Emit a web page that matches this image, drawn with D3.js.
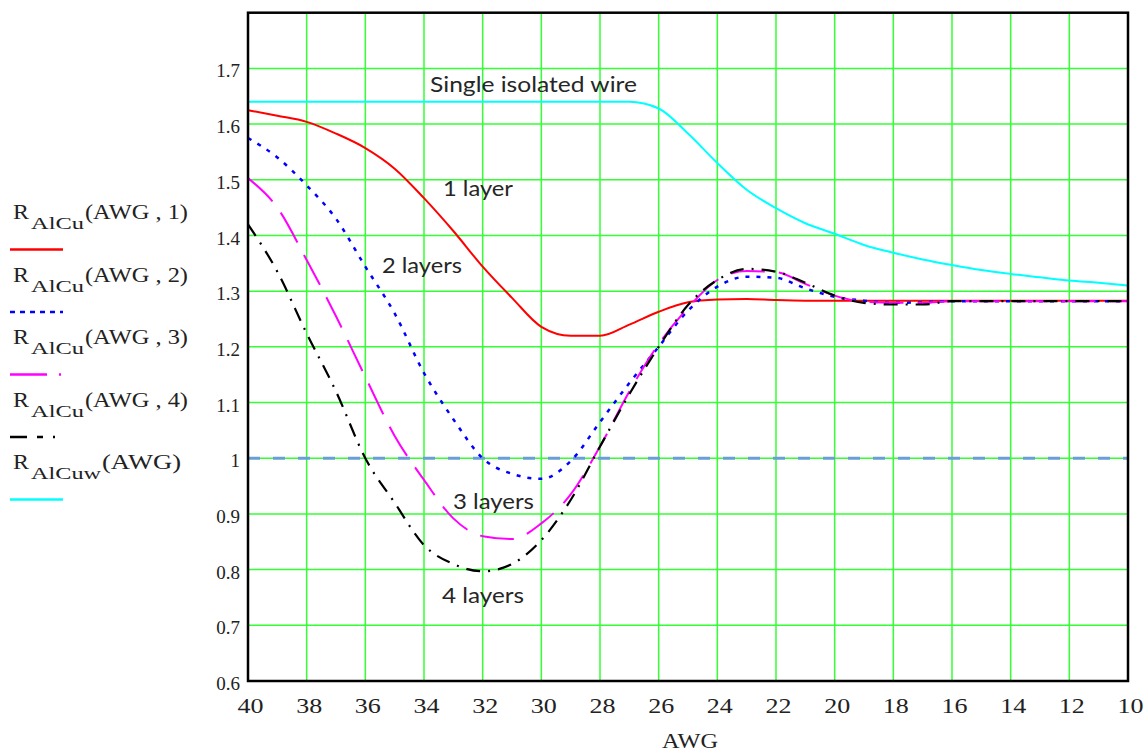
<!DOCTYPE html>
<html>
<head>
<meta charset="utf-8">
<script src="https://cdn.jsdelivr.net/npm/d3@7"></script>
<style>
body { margin: 0; background: #fff; }
</style>
</head>
<body>
<div id="chart"></div>
<script>
// AWG sample points shared by every curve
var awg = [40,39,38,37,36,35,34,33,32,31,30,29,28,27,26,25,24,23,22,21,20,19,18,17,16,15,14,13,12,11,10];

// R_AlCu(AWG, n) for 1..4 layers, and the single isolated wire
var layer1 = [1.625,1.615,1.604,1.583,1.557,1.52,1.467,1.408,1.344,1.288,1.236,1.22,1.22,1.24,1.263,1.28,1.285,1.286,1.284,1.283,1.283,1.283,1.283,1.283,1.283,1.283,1.283,1.283,1.283,1.283,1.283];
var layer2 = [1.575,1.54,1.49,1.43,1.344,1.26,1.153,1.07,1.0,0.972,0.963,0.995,1.065,1.135,1.2,1.265,1.308,1.326,1.324,1.305,1.29,1.283,1.279,1.28,1.282,1.282,1.282,1.282,1.282,1.282,1.282];
var layer3 = [1.503,1.45,1.356,1.255,1.146,1.04,0.961,0.892,0.86,0.855,0.883,0.935,1.021,1.12,1.205,1.27,1.32,1.336,1.334,1.313,1.292,1.281,1.279,1.279,1.282,1.282,1.282,1.282,1.282,1.282,1.282];
var layer4 = [1.42,1.335,1.224,1.12,1.0,0.92,0.844,0.81,0.797,0.81,0.853,0.925,1.021,1.115,1.2,1.275,1.32,1.34,1.335,1.315,1.292,1.279,1.276,1.276,1.282,1.282,1.282,1.282,1.282,1.282,1.282];
var wire = [1.64,1.64,1.64,1.64,1.64,1.64,1.64,1.64,1.64,1.64,1.64,1.64,1.64,1.64,1.628,1.583,1.53,1.482,1.449,1.422,1.403,1.383,1.369,1.357,1.347,1.338,1.331,1.325,1.319,1.315,1.31];

// reference level at 1
var refAwg = [40,10];
var refLevel = [1,1];

var xTicks = [40,38,36,34,32,30,28,26,24,22,20,18,16,14,12,10];
var yTicks = [0.6,0.7,0.8,0.9,1.0,1.1,1.2,1.3,1.4,1.5,1.6,1.7];
var yTickLabels = ["0.6","0.7","0.8","0.9","1","1.1","1.2","1.3","1.4","1.5","1.6","1.7"];

var legendArgs = ["(AWG , 1)","(AWG , 2)","(AWG , 3)","(AWG , 4)","(AWG)"];
var legendSubs = ["AlCu","AlCu","AlCu","AlCu","AlCuw"];

var notes = ["Single isolated wire","1 layer","2 layers","3 layers","4 layers"];

var width = 1148, height = 755;
var plotLeft = 248, plotRight = 1128, plotTop = 12.7, plotBottom = 681;

var svg = d3.select("#chart").append("svg")
    .attr("width", width)
    .attr("height", height);

var x = d3.scaleLinear().domain([40,10]).range([plotLeft,plotRight]);
var y = d3.scaleLinear().domain([0.6,1.8]).range([plotBottom,plotTop]);

//grid
var grid = svg.append("g").attr("stroke", "#33ff33").attr("stroke-width", 1.5);
grid.selectAll("line.v").data(xTicks).enter().append("line")
    .attr("x1", function(d){ return x(d); })
    .attr("x2", function(d){ return x(d); })
    .attr("y1", plotTop).attr("y2", plotBottom);
grid.selectAll("line.h").data(yTicks).enter().append("line")
    .attr("y1", function(d){ return y(d); })
    .attr("y2", function(d){ return y(d); })
    .attr("x1", plotLeft).attr("x2", plotRight);

var serif = "'Liberation Serif', 'Times New Roman', serif";

//axes - labels only
var xAxis = d3.axisBottom(x).tickValues(xTicks).tickSize(0).tickPadding(0);
var gx = svg.append("g")
    .attr("transform", "translate(0," + plotBottom + ")")
    .call(xAxis);
gx.select(".domain").remove();
gx.selectAll("text")
    .attr("y", 32)
    .attr("dy", null)
    .attr("x", 2)
    .attr("fill", "#222")
    .attr("textLength", 26)
    .attr("lengthAdjust", "spacingAndGlyphs")
    .style("font-family", serif)
    .style("font-size", "21px");

var yAxis = d3.axisLeft(y).tickValues(yTicks).tickSize(0).tickPadding(8)
    .tickFormat(function(d,i){ return yTickLabels[i]; });
var gy = svg.append("g")
    .attr("transform", "translate(" + plotLeft + ",0)")
    .call(yAxis);
gy.select(".domain").remove();
gy.selectAll("text")
    .attr("dy", "0.45em")
    .attr("fill", "#222")
    .style("font-family", serif)
    .style("font-size", "19px");

svg.append("text")
    .attr("x", 690).attr("y", 748)
    .attr("text-anchor", "middle")
    .attr("fill", "#222")
    .attr("textLength", 56)
    .attr("lengthAdjust", "spacingAndGlyphs")
    .style("font-family", serif)
    .style("font-size", "20px")
    .text("AWG");

//line generator
function makeLine(xs){
    return d3.line()
        .x(function(d,i){ return x(xs[i]); })
        .y(function(d){ return y(d); })
        .curve(d3.curveMonotoneX);
}

svg.append("path")
    .attr("d", makeLine(refAwg)(refLevel))
    .attr("fill", "none")
    .attr("stroke", "#6a9fd6")
    .attr("stroke-width", 3)
    .attr("stroke-dasharray", "12,13");

var series = [
    {vals: wire, color: "#00ffff", dash: null, w: 2},
    {vals: layer1, color: "#ff0000", dash: null, w: 2},
    {vals: layer2, color: "#0000ff", dash: "4,7", w: 2.5},
    {vals: layer3, color: "#ff00ff", dash: "34,14", w: 2},
    {vals: layer4, color: "#000000", dash: "14,8,2,8", w: 2.2}
];

series.forEach(function(s){
    svg.append("path")
        .attr("d", makeLine(awg)(s.vals))
        .attr("fill", "none")
        .attr("stroke", s.color)
        .attr("stroke-width", s.w)
        .attr("stroke-dasharray", s.dash);
});

//frame
svg.append("rect")
    .attr("x", plotLeft).attr("y", plotTop)
    .attr("width", plotRight - plotLeft).attr("height", plotBottom - plotTop)
    .attr("fill", "none")
    .attr("stroke", "#000")
    .attr("stroke-width", 2.5);

//annotations
var notePos = [[430,92,207],[443,196,70],[382,273,80],[453,509,81],[442,603,82]];
notes.forEach(function(t,i){
    svg.append("text")
        .attr("x", notePos[i][0]).attr("y", notePos[i][1])
        .attr("textLength", notePos[i][2])
        .attr("lengthAdjust", "spacingAndGlyphs")
        .attr("fill", "#262626")
        .style("font-family", "Lato, 'Open Sans', sans-serif")
        .style("font-size", "22px")
        .text(t);
});

//legend
var legendColors = ["#ff0000","#0000ff","#ff00ff","#000000","#00ffff"];
var legendDash = [null,"5,5","37,12,2,12","17,10,6,10,2,10",null];
legendArgs.forEach(function(arg,i){
    var base = 219 + i*62.5;
    var g = svg.append("g");
    g.append("text").attr("x", 13).attr("y", base)
        .attr("fill", "#222").style("font-family", serif).style("font-size", "21px")
        .attr("textLength", 16).attr("lengthAdjust", "spacingAndGlyphs")
        .text("R");
    var subLen = legendSubs[i] == "AlCuw" ? 70 : 53;
    g.append("text").attr("x", 31).attr("y", base + 10)
        .attr("fill", "#222").style("font-family", serif).style("font-size", "17px")
        .attr("textLength", subLen).attr("lengthAdjust", "spacingAndGlyphs")
        .text(legendSubs[i]);
    var argLen = arg == "(AWG)" ? 79 : 103;
    g.append("text").attr("x", 31 + subLen + 1).attr("y", base)
        .attr("fill", "#222").style("font-family", serif).style("font-size", "21px")
        .attr("textLength", argLen).attr("lengthAdjust", "spacingAndGlyphs")
        .text(arg);
    g.append("line")
        .attr("x1", 10).attr("x2", 63)
        .attr("y1", base + 30.5).attr("y2", base + 30.5)
        .attr("stroke", legendColors[i])
        .attr("stroke-width", 2.5)
        .attr("stroke-dasharray", legendDash[i]);
});
</script>
</body>
</html>
